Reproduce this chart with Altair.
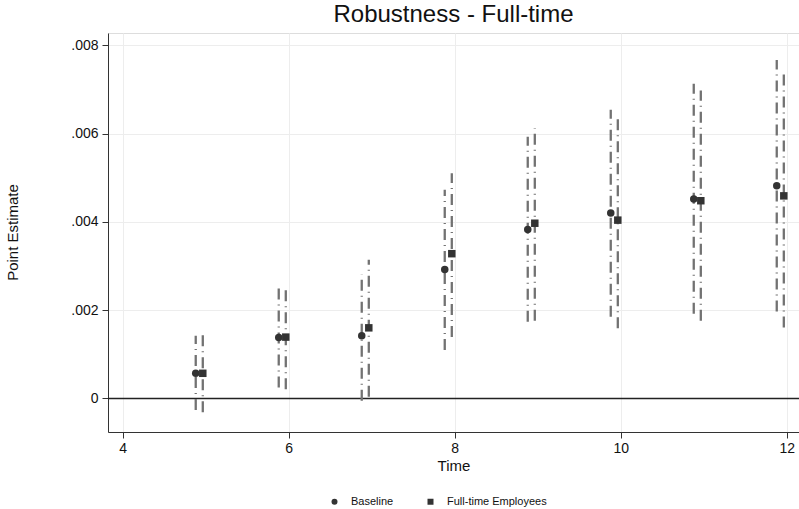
import altair as alt
import pandas as pd

times = [5, 6, 7, 8, 9, 10, 11, 12]
series_names = ["Baseline", "Full-time Employees"]

base_est = [0.00057, 0.00138, 0.00142, 0.00292, 0.00383, 0.00420, 0.00452, 0.00482]
base_lo = [-0.00026, 0.00025, -0.00005, 0.00110, 0.00174, 0.00185, 0.00192, 0.00197]
base_hi = [0.00142, 0.00249, 0.00281, 0.00473, 0.00593, 0.00654, 0.00713, 0.00767]

ft_est = [0.00057, 0.00139, 0.00160, 0.00328, 0.00397, 0.00404, 0.00448, 0.00459]
ft_lo = [-0.00031, 0.00021, 0.00004, 0.00139, 0.00176, 0.00159, 0.00176, 0.00161]
ft_hi = [0.00144, 0.00246, 0.00314, 0.00510, 0.00612, 0.00643, 0.00698, 0.00745]

offsets = {"Baseline": -0.12, "Full-time Employees": -0.035}

rows = []
for name, est, lo, hi in [
    (series_names[0], base_est, base_lo, base_hi),
    (series_names[1], ft_est, ft_lo, ft_hi),
]:
    for t, e, l, h in zip(times, est, lo, hi):
        rows.append({"series": name, "time": t + offsets[name], "est": e, "lo": l, "hi": h})
df = pd.DataFrame(rows)

FONT = "Liberation Sans"

xscale = alt.Scale(domain=[3.823, 12.148], nice=False, zero=False)
yscale = alt.Scale(domain=[-0.00076, 0.00828], nice=False, zero=False)

x_axis = alt.Axis(
    values=[4, 6, 8, 10, 12], format="d", title="Time", grid=True, gridColor="#ededed",
    domainColor="#333333", tickColor="#333333", tickSize=6, labelFontSize=14,
    labelColor="#111111", labelPadding=3, titleFontSize=15, titleFontWeight="normal",
    titleColor="#111111", titleY=33, titleBaseline="middle", labelFont=FONT, titleFont=FONT,
)
y_axis = alt.Axis(
    values=[0, 0.002, 0.004, 0.006, 0.008], title="Point Estimate", grid=True,
    gridColor="#ededed", domainColor="#333333", tickColor="#333333", tickSize=6,
    labelFontSize=14, labelColor="#111111", labelPadding=4,
    labelExpr="datum.value == 0 ? '0' : substring(format(datum.value, '.3f'), 1)",
    titleFontSize=15, titleFontWeight="normal", titleColor="#111111",
    titleX=-96, titleY=199, titleAngle=-90, titleAlign="center", titleBaseline="middle",
    labelFont=FONT, titleFont=FONT,
)

rules = alt.Chart(df).mark_rule(
    color="#727272", strokeWidth=2.3, strokeDash=[11, 5, 1, 5]
).encode(
    x=alt.X("time:Q", scale=xscale, axis=x_axis),
    y=alt.Y("lo:Q", scale=yscale, axis=y_axis),
    y2="hi:Q",
)

zero = alt.Chart(pd.DataFrame({"z": [0]})).mark_rule(color="#222222", strokeWidth=1.4).encode(
    y=alt.Y("z:Q", scale=yscale)
)

points = alt.Chart(df).mark_point(filled=True, opacity=1, color="#333333", size=56).encode(
    x=alt.X("time:Q", scale=xscale),
    y=alt.Y("est:Q", scale=yscale),
    shape=alt.Shape(
        "series:N",
        scale=alt.Scale(domain=series_names, range=["circle", "square"]),
        legend=alt.Legend(
            title=None, orient="none", direction="horizontal", legendX=221, legendY=463,
            labelFontSize=11, labelFont=FONT, labelColor="#111111", symbolSize=36,
            symbolFillColor="#333333", symbolStrokeColor="#333333", symbolType="circle",
            columnPadding=30, labelOffset=11, padding=0,
        ),
    ),
)

chart = alt.layer(zero, rules, points).properties(
    width=691, height=399,
    title=alt.TitleParams("Robustness - Full-time", fontSize=24, font=FONT,
                          fontWeight="normal", color="#111111", anchor="middle", offset=6),
    autosize=alt.AutoSizeParams(type="none"),
    padding={"left": 108, "top": 33, "right": 0, "bottom": 77},
).configure_view(stroke=None).configure(background="white")

chart.save("out.html", embed_options={"renderer": "svg", "actions": False})
